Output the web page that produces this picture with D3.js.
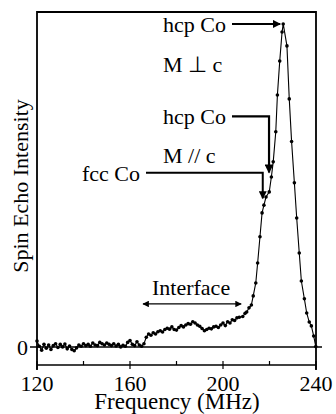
<!DOCTYPE html>
<html>
<head>
<meta charset="utf-8">
<script src="https://cdn.jsdelivr.net/npm/d3@7"></script>
<style>
  body { margin: 0; background: #fff; }
  text { font-family: "Liberation Serif", "Times New Roman", serif; fill: #000; }
</style>
</head>
<body>
<svg id="chart"></svg>
<script>
// spectrum: frequency (MHz) and spin echo intensity (peak = 1)
const freqs = [
  120, 121, 122, 123, 124, 125, 126, 127, 128, 129,
  130, 131, 132, 133, 134, 135, 136, 137, 138, 139,
  140, 141, 142, 143, 144, 145, 146, 147, 148, 149,
  150, 151, 152, 153, 154, 155, 156, 157, 158, 159,
  160, 161, 162, 163, 164, 165, 166, 167, 168, 169,
  170, 171, 172, 173, 174, 175, 176, 177, 178, 179,
  180, 181, 182, 183, 184, 185, 186, 187, 188, 189,
  190, 191, 192, 193, 194, 195, 196, 197, 198, 199,
  200, 201, 202, 203, 204, 205, 206, 207, 208.5, 209.5,
  210.2, 211.2, 212.2, 213.0, 214.1, 214.9, 215.9, 216.8, 217.6, 218.5,
  219.9, 220.8, 221.6, 222.7, 223.4, 224.4, 225.4, 225.9, 227.5, 228.5,
  229.5, 230.7, 231.7, 232.8, 233.7, 235.0, 236.0, 237.1, 238.0, 239.0,
  239.9
];
const intensity = [
  0.018, 0.002, -0.010, 0.008, -0.004, 0.006, -0.008, 0.004, 0.010, -0.002,
  0.008, 0.000, 0.009, -0.006, 0.003, -0.008, -0.012, -0.003, 0.006, 0.002,
  0.010, 0.004, 0.008, 0.002, 0.012, 0.006, 0.004, 0.014, 0.010, 0.006,
  0.012, 0.008, 0.004, 0.010, 0.003, 0.008, 0.000, 0.005, 0.002, 0.014,
  0.020, 0.008, 0.004, 0.016, 0.006, 0.002, 0.010, 0.030, 0.040, 0.036,
  0.044, 0.040, 0.047, 0.050, 0.046, 0.054, 0.058, 0.055, 0.062, 0.054,
  0.052, 0.060, 0.066, 0.062, 0.068, 0.072, 0.070, 0.078, 0.074, 0.068,
  0.064, 0.057, 0.050, 0.054, 0.058, 0.056, 0.062, 0.064, 0.060, 0.068,
  0.074, 0.066, 0.078, 0.074, 0.084, 0.082, 0.090, 0.092, 0.094, 0.104,
  0.108, 0.121, 0.130, 0.158, 0.198, 0.260, 0.341, 0.415, 0.439, 0.464,
  0.480, 0.526, 0.573, 0.666, 0.780, 0.885, 0.975, 1.000, 0.932, 0.768,
  0.636, 0.508, 0.399, 0.291, 0.204, 0.149, 0.105, 0.077, 0.065, 0.034,
  0.001
];
const xTicks = [120, 140, 160, 180, 200, 220, 240];
const xTickLabels = [120, 160, 200, 240];

const width = 336;
const height = 414;
const margin = { left: 37, right: 20, top: 12, bottom: 49 };

const svg = d3.select("#chart")
  .attr("width", width)
  .attr("height", height);

const x = d3.scaleLinear()
  .domain([120, 240])
  .range([margin.left, width - margin.right]);

const y = d3.scaleLinear()
  .domain([-0.056, 1.037])
  .range([height - margin.bottom, margin.top]);

const data = freqs.map((f, i) => ({ f: f, v: intensity[i] }));

// arrow heads
const defs = svg.append("defs");
defs.append("marker")
  .attr("id", "head")
  .attr("viewBox", "0 0 10 10")
  .attr("refX", 9).attr("refY", 5)
  .attr("markerWidth", 5).attr("markerHeight", 4)
  .attr("markerUnits", "strokeWidth")
  .attr("orient", "auto-start-reverse")
  .append("path")
  .attr("d", "M0,0 L10,5 L0,10 z")
  .attr("fill", "#000");
defs.append("marker")
  .attr("id", "headThin")
  .attr("viewBox", "0 0 10 10")
  .attr("refX", 9).attr("refY", 5)
  .attr("markerWidth", 7).attr("markerHeight", 5)
  .attr("markerUnits", "strokeWidth")
  .attr("orient", "auto-start-reverse")
  .append("path")
  .attr("d", "M0,0 L10,5 L0,10 z")
  .attr("fill", "#000");

// frame
const x0 = x(120), x1 = x(240), yTop = y.range()[1], yBot = y.range()[0];
svg.append("path")
  .attr("d", `M${x0},${yBot + 5} V${yTop} H${x1} V${yBot + 5}`)
  .attr("fill", "none").attr("stroke", "#000").attr("stroke-width", 1.8);
svg.append("line")
  .attr("x1", x0).attr("x2", x1).attr("y1", yBot).attr("y2", yBot)
  .attr("stroke", "#000").attr("stroke-width", 1.5);

// zero line
svg.append("line")
  .attr("x1", x0 - 7).attr("x2", x1 + 6).attr("y1", y(0)).attr("y2", y(0))
  .attr("stroke", "#000").attr("stroke-width", 1.5);

svg.append("text")
  .attr("x", x0 - 9).attr("y", y(0))
  .attr("dy", "0.35em")
  .style("text-anchor", "end")
  .style("font-size", "22px")
  .text("0");

// x ticks
svg.append("g")
  .selectAll("line")
  .data(xTicks)
  .enter()
  .append("line")
  .attr("x1", d => x(d)).attr("x2", d => x(d))
  .attr("y1", yBot - 4).attr("y2", d => xTickLabels.includes(d) ? yBot + 4 : yBot)
  .attr("stroke", "#000").attr("stroke-width", 1.2);

svg.append("g")
  .selectAll("text")
  .data(xTickLabels)
  .enter()
  .append("text")
  .attr("x", d => x(d))
  .attr("y", 391)
  .style("text-anchor", "middle")
  .style("font-size", "22px")
  .text(d => d);

svg.append("text")
  .attr("x", 177).attr("y", 409)
  .style("text-anchor", "middle")
  .style("font-size", "23px")
  .text("Frequency (MHz)");

svg.append("text")
  .attr("transform", "rotate(-90)")
  .attr("x", -186).attr("y", 28)
  .style("text-anchor", "middle")
  .style("font-size", "22px")
  .text("Spin Echo Intensity");

// spectrum
const line = d3.line()
  .x(d => x(d.f))
  .y(d => y(d.v));

svg.append("path")
  .datum(data)
  .attr("d", line)
  .attr("fill", "none")
  .attr("stroke", "#000")
  .attr("stroke-width", 1.1);

svg.append("g")
  .selectAll("circle")
  .data(data)
  .enter()
  .append("circle")
  .attr("cx", d => x(d.f))
  .attr("cy", d => y(d.v))
  .attr("r", 1.8)
  .attr("fill", "#000");

// annotations
const label = (tx, ty, t) => svg.append("text")
  .attr("x", tx).attr("y", ty)
  .style("font-size", "22px")
  .text(t);

label(163, 32, "hcp Co");
label(163, 72, "M \u22a5 c");
label(163, 124, "hcp Co");
label(163, 163, "M // c");
label(82, 181, "fcc Co");
label(152, 295, "Interface");

svg.append("path")
  .attr("d", `M232,${y(1.0)} H${x(224.6)}`)
  .attr("fill", "none").attr("stroke", "#000").attr("stroke-width", 2)
  .attr("marker-end", "url(#head)");

svg.append("path")
  .attr("d", `M232,${y(0.714)} H${x(219.8)} V${y(0.54)}`)
  .attr("fill", "none").attr("stroke", "#000").attr("stroke-width", 2.2)
  .attr("marker-end", "url(#head)");

svg.append("path")
  .attr("d", `M146,${y(0.539)} H${x(217.1)} V${y(0.46)}`)
  .attr("fill", "none").attr("stroke", "#000").attr("stroke-width", 2)
  .attr("marker-end", "url(#head)");

svg.append("line")
  .attr("x1", x(165.6)).attr("x2", x(207.8))
  .attr("y1", y(0.133)).attr("y2", y(0.133))
  .attr("stroke", "#000").attr("stroke-width", 1.3)
  .attr("marker-start", "url(#headThin)")
  .attr("marker-end", "url(#headThin)");
</script>
</body>
</html>
